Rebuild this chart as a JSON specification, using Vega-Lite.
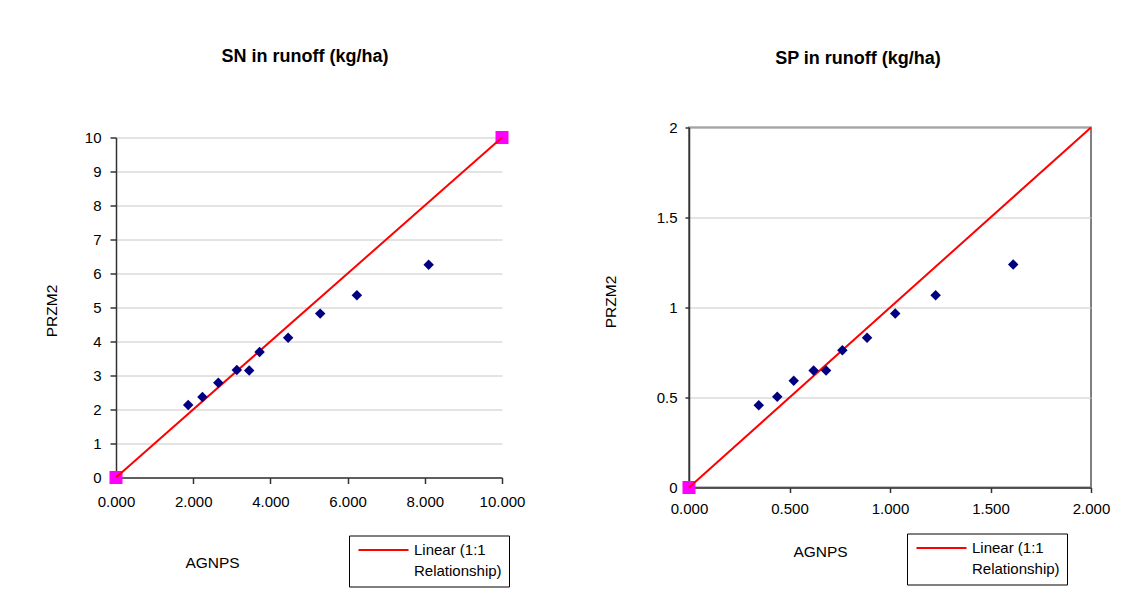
{
  "$schema": "https://vega.github.io/schema/vega-lite/v6.json",
  "background": "white",
  "padding": {"left": 44, "top": 47.5, "right": 5, "bottom": 5},
  "spacing": 77,
  "datasets": {
    "sn": [
      {"x": 1.87, "y": 2.13}, {"x": 2.24, "y": 2.37}, {"x": 2.65, "y": 2.79},
      {"x": 3.13, "y": 3.16}, {"x": 3.45, "y": 3.15}, {"x": 3.72, "y": 3.69},
      {"x": 4.46, "y": 4.11}, {"x": 5.29, "y": 4.82}, {"x": 6.24, "y": 5.36},
      {"x": 8.10, "y": 6.26}
    ],
    "sn_line": [
      {"x": 0, "y": 0, "s": "Linear (1:1 Relationship)"},
      {"x": 10, "y": 10, "s": "Linear (1:1 Relationship)"}
    ],
    "sn_sq": [{"x": 0, "y": 0}, {"x": 10, "y": 10}],
    "sp": [
      {"x": 0.347, "y": 0.457}, {"x": 0.439, "y": 0.504}, {"x": 0.521, "y": 0.593},
      {"x": 0.620, "y": 0.650}, {"x": 0.682, "y": 0.650}, {"x": 0.763, "y": 0.763},
      {"x": 0.886, "y": 0.832}, {"x": 1.026, "y": 0.967}, {"x": 1.227, "y": 1.068},
      {"x": 1.613, "y": 1.239}
    ],
    "sp_line": [
      {"x": 0, "y": 0, "s": "Linear (1:1 Relationship)"},
      {"x": 2, "y": 2, "s": "Linear (1:1 Relationship)"}
    ],
    "sp_sq": [{"x": 0, "y": 0}]
  },
  "resolve": {"scale": {"color": "independent"}, "legend": {"color": "independent"}},
  "hconcat": [
    {
      "width": 386,
      "height": 350,
      "view": {"stroke": null},
      "title": {"text": "SN in runoff (kg/ha)", "offset": 61.5, "dx": -4},
      "encoding": {
        "x": {
          "field": "x", "type": "quantitative",
          "scale": {"domain": [0, 10], "nice": false, "zero": true},
          "axis": {"values": [0, 2, 4, 6, 8, 10], "format": ".3f", "grid": false, "tickSize": 6, "labelPadding": 11,
                   "labelFlush": false, "labelOverlap": false, "labelBound": false,
                   "title": "AGNPS", "titleX": 96, "titleY": 85, "titleAlign": "center", "titleBaseline": "middle"}
        },
        "y": {
          "field": "y", "type": "quantitative",
          "scale": {"domain": [0, 10], "nice": false, "zero": true, "range": [350, 10]},
          "axis": {"values": [0, 1, 2, 3, 4, 5, 6, 7, 8, 9, 10], "grid": true, "tickSize": 6, "labelPadding": 9,
                   "labelFlush": false, "labelOverlap": false,
                   "title": "PRZM2", "titleX": -65, "titleY": 183, "titleAlign": "center", "titleBaseline": "middle", "titleAngle": -90}
        }
      },
      "layer": [
        {"data": {"values": [{}]}, "mark": {"type": "rule", "color": "#808080", "strokeWidth": 2},
         "encoding": {"x": {"datum": 0, "type": "quantitative"}, "x2": {"datum": 10}, "y": {"datum": 10, "type": "quantitative"}}},
        {"data": {"values": [{}]}, "mark": {"type": "rule", "color": "#808080", "strokeWidth": 2},
         "encoding": {"x": {"datum": 10, "type": "quantitative"}, "y": {"datum": 0, "type": "quantitative"}, "y2": {"datum": 10}}},
        {"data": {"name": "sn_sq"}, "mark": {"type": "point", "shape": "square", "filled": true, "color": "#ff00ff", "size": 169, "opacity": 1}},
        {"data": {"name": "sn_line"}, "mark": {"type": "line", "strokeWidth": 2},
         "encoding": {"color": {"field": "s", "type": "nominal", "scale": {"range": ["#ff0000"]},
           "legend": {"orient": "none", "legendX": 233, "legendY": 408, "title": null,
             "labelExpr": "['Linear (1:1', 'Relationship)']",
             "encode": {"labels": {"update": {"lineHeight": {"value": 21}}}}}}}},
        {"data": {"name": "sn"}, "mark": {"type": "point", "shape": "diamond", "filled": true, "color": "#000080", "size": 110, "opacity": 1}}
      ]
    },
    {
      "width": 402,
      "height": 360,
      "title": {"text": "SP in runoff (kg/ha)", "offset": 53, "dx": -32},
      "encoding": {
        "x": {
          "field": "x", "type": "quantitative",
          "scale": {"domain": [0, 2], "nice": false, "zero": true},
          "axis": {"values": [0, 0.5, 1, 1.5, 2], "format": ".3f", "grid": false, "tickSize": 5, "labelPadding": 9,
                   "labelFlush": false, "labelOverlap": false, "labelBound": false,
                   "title": "AGNPS", "titleX": 131, "titleY": 64, "titleAlign": "center", "titleBaseline": "middle"}
        },
        "y": {
          "field": "y", "type": "quantitative",
          "scale": {"domain": [0, 2], "nice": false, "zero": true},
          "axis": {"values": [0, 0.5, 1, 1.5, 2], "format": "~g", "grid": true, "tickSize": 4, "labelPadding": 8,
                   "labelFlush": false, "labelOverlap": false,
                   "title": "PRZM2", "titleX": -79, "titleY": 174, "titleAlign": "center", "titleBaseline": "middle", "titleAngle": -90}
        }
      },
      "layer": [
        {"data": {"name": "sp_sq"}, "mark": {"type": "point", "shape": "square", "filled": true, "color": "#ff00ff", "size": 169, "opacity": 1}},
        {"data": {"name": "sp_line"}, "mark": {"type": "line", "strokeWidth": 2},
         "encoding": {"color": {"field": "s", "type": "nominal", "scale": {"range": ["#ff0000"]},
           "legend": {"orient": "none", "legendX": 218, "legendY": 406, "title": null,
             "labelExpr": "['Linear (1:1', 'Relationship)']",
             "encode": {"labels": {"update": {"lineHeight": {"value": 21}}}}}}}},
        {"data": {"name": "sp"}, "mark": {"type": "point", "shape": "diamond", "filled": true, "color": "#000080", "size": 110, "opacity": 1}}
      ]
    }
  ],
  "config": {
    "font": "Liberation Sans",
    "view": {"stroke": "#808080", "strokeWidth": 2},
    "axis": {
      "labelFont": "Liberation Sans", "labelFontSize": 15, "labelColor": "#000000",
      "titleFont": "Liberation Sans", "titleFontSize": 15.5, "titleFontWeight": "normal", "titleColor": "#000000",
      "domainColor": "#333333", "domainWidth": 1.5, "tickColor": "#333333", "tickWidth": 1.5,
      "gridColor": "#c8c8c8", "gridWidth": 1
    },
    "title": {"font": "Liberation Sans", "fontSize": 18, "fontWeight": "bold", "color": "#000000", "anchor": "middle"},
    "legend": {
      "symbolType": "M-1,0H9", "symbolStrokeWidth": 2, "symbolSize": 100, "symbolStrokeColor": "#ff0000",
      "labelFont": "Liberation Sans", "labelFontSize": 15, "labelColor": "#000000",
      "labelOffset": 43, "labelLimit": 300, "padding": 7, "strokeColor": "#000000", "fillColor": "#ffffff", "cornerRadius": 0
    }
  }
}
